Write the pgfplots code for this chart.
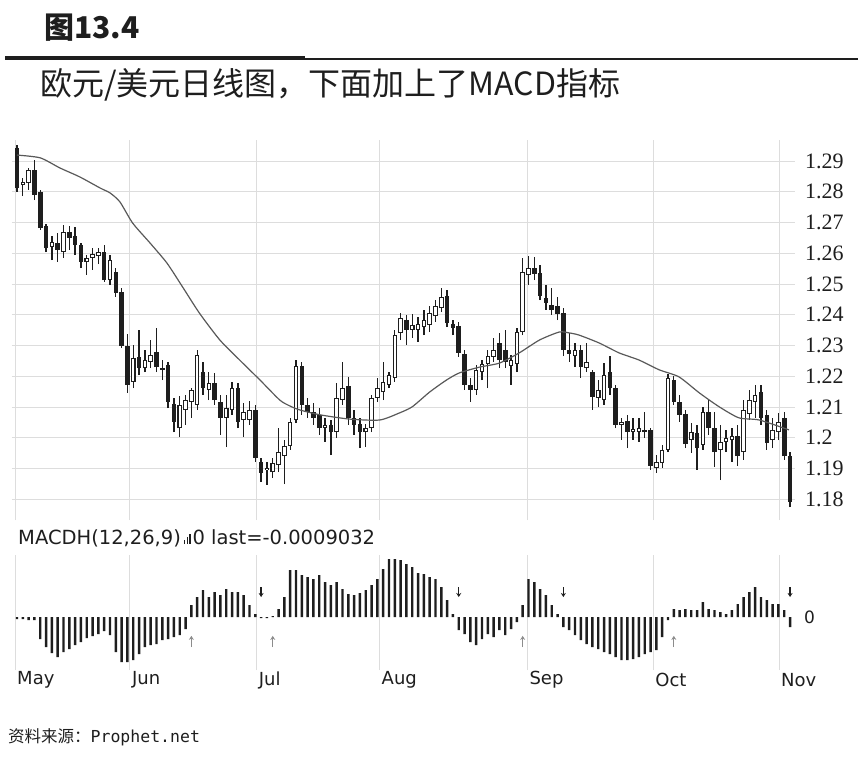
\documentclass[border=0pt]{standalone}
\usepackage{fontspec}
\setmainfont{Liberation Serif}
\newfontfamily\dv{DejaVu Sans}
\newfontfamily\dvmono{DejaVu Sans Mono}
\newfontfamily\cjk{Noto Sans CJK SC}
\usepackage{pgfplots}
\usepackage{pgfplotstable}
\pgfplotsset{compat=1.18}
\usetikzlibrary{arrows.meta}

\definecolor{ink}{HTML}{1E1E1E}
\definecolor{gridc}{HTML}{DDDDDD}

% EUR/USD daily candles, d = trading day from early May
\pgfplotstableread{
d o h l c
0 1.2942 1.2952 1.2799 1.2812
1 1.2822 1.2845 1.2786 1.2832
2 1.2828 1.2877 1.2806 1.2871
3 1.2871 1.2903 1.2773 1.2790
4 1.2799 1.2806 1.2676 1.2682
5 1.2689 1.2695 1.2604 1.2617
6 1.2620 1.2656 1.2578 1.2637
7 1.2633 1.2666 1.2572 1.2611
8 1.2604 1.2692 1.2585 1.2669
9 1.2669 1.2689 1.2611 1.2650
10 1.2656 1.2686 1.2594 1.2627
11 1.2627 1.2633 1.2552 1.2572
12 1.2572 1.2594 1.2530 1.2585
13 1.2585 1.2617 1.2546 1.2598
14 1.2591 1.2617 1.2565 1.2604
15 1.2604 1.2627 1.2507 1.2513
16 1.2513 1.2594 1.2497 1.2578
17 1.2539 1.2552 1.2458 1.2471
18 1.2474 1.2487 1.2292 1.2299
19 1.2299 1.2338 1.2146 1.2172
20 1.2182 1.2302 1.2162 1.2260
21 1.2263 1.2351 1.2204 1.2227
22 1.2227 1.2286 1.2214 1.2253
23 1.2247 1.2318 1.2227 1.2269
24 1.2279 1.2357 1.2214 1.2230
25 1.2227 1.2253 1.2188 1.2221
26 1.2237 1.2247 1.2097 1.2117
27 1.2110 1.2130 1.2019 1.2052
28 1.2032 1.2136 1.2003 1.2107
29 1.2091 1.2140 1.2042 1.2123
30 1.2117 1.2162 1.2065 1.2156
31 1.2107 1.2286 1.2091 1.2269
32 1.2214 1.2247 1.2140 1.2162
33 1.2156 1.2214 1.2123 1.2179
34 1.2179 1.2211 1.2107 1.2123
35 1.2117 1.2140 1.2010 1.2065
36 1.2065 1.2140 1.1970 1.2097
37 1.2091 1.2182 1.2075 1.2162
38 1.2162 1.2179 1.2032 1.2052
39 1.2058 1.2114 1.2003 1.2084
40 1.2058 1.2120 1.2042 1.2091
41 1.2091 1.2107 1.1922 1.1935
42 1.1922 1.1935 1.1857 1.1886
43 1.1896 1.1922 1.1847 1.1902
44 1.1889 1.1935 1.1870 1.1919
45 1.1912 1.2032 1.1889 1.1954
46 1.1941 1.1993 1.1850 1.1974
47 1.1974 1.2065 1.1961 1.2052
48 1.2058 1.2253 1.2048 1.2234
49 1.2234 1.2247 1.2075 1.2107
50 1.2107 1.2130 1.2065 1.2084
51 1.2084 1.2114 1.2042 1.2065
52 1.2075 1.2097 1.2010 1.2032
53 1.2032 1.2065 1.1987 1.2042
54 1.2042 1.2058 1.1944 1.2019
55 1.2019 1.2179 1.2000 1.2130
56 1.2123 1.2247 1.2107 1.2162
57 1.2168 1.2198 1.2042 1.2065
58 1.2065 1.2091 1.2010 1.2042
59 1.2045 1.2065 1.1967 1.2019
60 1.2019 1.2045 1.1970 1.2032
61 1.2032 1.2140 1.2019 1.2130
62 1.2130 1.2195 1.2117 1.2162
63 1.2149 1.2247 1.2123 1.2182
64 1.2172 1.2214 1.2162 1.2204
65 1.2195 1.2351 1.2182 1.2334
66 1.2341 1.2406 1.2318 1.2390
67 1.2383 1.2399 1.2302 1.2351
68 1.2351 1.2403 1.2325 1.2367
69 1.2351 1.2393 1.2312 1.2370
70 1.2360 1.2416 1.2334 1.2383
71 1.2367 1.2429 1.2344 1.2406
72 1.2396 1.2448 1.2377 1.2429
73 1.2422 1.2487 1.2409 1.2458
74 1.2461 1.2481 1.2360 1.2373
75 1.2370 1.2383 1.2334 1.2357
76 1.2364 1.2377 1.2263 1.2276
77 1.2273 1.2286 1.2156 1.2172
78 1.2172 1.2195 1.2117 1.2156
79 1.2156 1.2237 1.2140 1.2221
80 1.2214 1.2253 1.2188 1.2240
81 1.2240 1.2286 1.2162 1.2266
82 1.2263 1.2325 1.2247 1.2286
83 1.2308 1.2341 1.2227 1.2253
84 1.2286 1.2351 1.2227 1.2247
85 1.2234 1.2269 1.2172 1.2253
86 1.2240 1.2357 1.2214 1.2344
87 1.2344 1.2585 1.2334 1.2539
88 1.2530 1.2591 1.2497 1.2552
89 1.2552 1.2588 1.2513 1.2533
90 1.2536 1.2562 1.2448 1.2461
91 1.2455 1.2497 1.2416 1.2439
92 1.2432 1.2487 1.2400 1.2416
93 1.2429 1.2458 1.2383 1.2403
94 1.2406 1.2422 1.2266 1.2286
95 1.2286 1.2341 1.2247 1.2273
96 1.2266 1.2308 1.2230 1.2286
97 1.2286 1.2302 1.2195 1.2230
98 1.2227 1.2308 1.2214 1.2247
99 1.2214 1.2221 1.2091 1.2133
100 1.2130 1.2188 1.2101 1.2156
101 1.2123 1.2243 1.2107 1.2204
102 1.2214 1.2266 1.2140 1.2162
103 1.2162 1.2172 1.2032 1.2042
104 1.2042 1.2065 1.1994 1.2052
105 1.2055 1.2075 1.1967 1.2019
106 1.2019 1.2065 1.1994 1.2029
107 1.2019 1.2065 1.1987 1.2032
108 1.2026 1.2084 1.2000 1.2019
109 1.2026 1.2032 1.1896 1.1909
110 1.1902 1.1944 1.1886 1.1922
111 1.1919 1.1977 1.1902 1.1961
112 1.1961 1.2208 1.1954 1.2195
113 1.2188 1.2201 1.2107 1.2117
114 1.2117 1.2140 1.2052 1.2075
115 1.2078 1.2091 1.1967 1.1980
116 1.1993 1.2048 1.1951 1.2019
117 1.2016 1.2042 1.1896 1.1967
118 1.1977 1.2101 1.1961 1.2084
119 1.2084 1.2123 1.2010 1.2032
120 1.2032 1.2084 1.1906 1.1954
121 1.1961 1.2042 1.1863 1.1987
122 1.1987 1.2026 1.1954 1.2000
123 1.1993 1.2032 1.1922 1.2006
124 1.2006 1.2042 1.1909 1.1941
125 1.1954 1.2123 1.1929 1.2091
126 1.2078 1.2156 1.2058 1.2123
127 1.2117 1.2172 1.2065 1.2140
128 1.2149 1.2172 1.2042 1.2065
129 1.2075 1.2091 1.1961 1.1983
130 1.1993 1.2065 1.1967 1.2026
131 1.2019 1.2081 1.1993 1.2052
132 1.2065 1.2084 1.1929 1.1941
133 1.1941 1.1954 1.1775 1.1792
}\candles

% MACD histogram (12,26,9), v in units of 0.0001
\pgfplotstableread{
d v
0 -1.8
1 -1.8
2 -2.7
3 -2.7
4 -19.8
5 -27
6 -32.4
7 -36
8 -31.5
9 -28.8
10 -25.2
11 -22.5
12 -18.9
13 -17.1
14 -15.3
15 -12.6
16 -16.2
17 -31.5
18 -40.5
19 -40.5
20 -38.7
21 -33.3
22 -27
23 -25.2
24 -24.3
25 -20.7
26 -19.8
27 -18
28 -16.2
29 -10.8
30 10.8
31 18
32 24.3
33 18
34 22.5
35 19.8
36 25.2
37 22.5
38 22.5
39 19.8
40 10.8
41 2.7
42 -0.9
43 -0.9
44 0.9
45 7.2
46 18
47 42.3
48 42.3
49 37.8
50 36
51 34.2
52 37.8
53 31.5
54 28.8
55 31.5
56 25.2
57 20.7
58 19.8
59 21.6
60 24.3
61 28.8
62 34.2
63 43.2
64 52.2
65 52.2
66 51.3
67 47.7
68 45
69 39.6
70 38.7
71 36
72 34.2
73 27
74 15.3
75 2.7
76 -11.7
77 -15.3
78 -22.5
79 -25.2
80 -19.8
81 -15.3
82 -18
83 -11.7
84 -16.2
85 -10.8
86 -4.5
87 10.8
88 34.2
89 31.5
90 25.2
91 19.8
92 10.8
93 2.7
94 -9
95 -11.7
96 -16.2
97 -20.7
98 -24.3
99 -27
100 -28.8
101 -31.5
102 -33.3
103 -36
104 -38.7
105 -38.7
106 -37.8
107 -36
108 -33.3
109 -31.5
110 -29.7
111 -18
112 -2.7
113 7.2
114 6.3
115 7.2
116 6.3
117 6.3
118 13.5
119 7.2
120 6.3
121 4.5
122 2.7
123 6.3
124 11.7
125 18
126 22.5
127 27
128 18
129 15.3
130 11.7
131 11.7
132 6.3
133 -9
}\macd

\begin{document}
\begin{tikzpicture}
\path[use as bounding box] (0,0) rectangle (868pt,-758pt);

% heading
\node[anchor=west, inner sep=0pt, text=ink] at (44pt,-28pt)
  {\cjk\bfseries\fontsize{30}{30}\selectfont 图13.4};
\fill[ink] (5pt,-56pt) rectangle (305pt,-60pt);
\draw[ink, line width=1.2pt] (305pt,-59pt) -- (858pt,-59pt);
\node[anchor=west, inner sep=0pt, text=ink] at (40pt,-85pt)
  {\cjk\fontsize{32}{32}\selectfont 欧元/美元日线图，下面加上了MACD指标};

% price panel
\begin{axis}[
  at={(12pt,-520pt)}, anchor=south west,
  scale only axis, width=783pt, height=380pt,
  xmin=-0.86, xmax=133.85, ymin=1.1733, ymax=1.2968,
  axis line style={draw=none},
  major tick length=0pt,
  xtick={-0.34,19.42,41.24,62.37,87.8,109.45,131.1},
  xticklabels={},
  ytick={1.18,1.19,1.20,1.21,1.22,1.23,1.24,1.25,1.26,1.27,1.28,1.29},
  yticklabel pos=right,
  /pgf/number format/assume math mode=true,
  yticklabel style={anchor=west, inner sep=0pt, xshift=10pt,
    font=\fontsize{22}{22}\selectfont, text=ink},
  xmajorgrids, ymajorgrids,
  major grid style={gridc, line width=0.8pt},
  candle/.style={draw=none, mark=none,
    error bars/.cd, y dir=plus, y explicit, error mark=none},
]
% wicks
\addplot[candle, error bar style={line width=1.3pt, draw=ink}]
  table[x=d, y=l, y error expr=\thisrow{h}-\thisrow{l}] {\candles};
% bodies
\addplot[candle, error bar style={line width=4.6pt, draw=ink}]
  table[x=d, y expr={min(\thisrow{o},\thisrow{c})},
        y error expr={max(abs(\thisrow{c}-\thisrow{o}),0.0003)}] {\candles};
% hollow inside of rising candles
\addplot[candle, error bar style={line width=2.4pt, draw=white}]
  table[x=d, y expr=\thisrow{o}+0.00028,
        y error expr={max(\thisrow{c}-\thisrow{o}-0.00056,0)}] {\candles};
% moving average
\addplot[smooth, tension=0.4, line width=1.2pt, color=black!65] coordinates {
(0,1.2919) (4,1.2910) (7.4,1.2877) (10.8,1.2848) (14.3,1.2812) (16,1.2796)
(17.7,1.2767) (19.9,1.2698) (22.9,1.2633) (25.8,1.2568) (28.5,1.2490)
(31.4,1.2405) (34.9,1.2318) (38.3,1.2253) (41.8,1.2188) (45.2,1.2123)
(46.9,1.2104) (48.6,1.2091) (52.1,1.2075) (57.2,1.2061) (62.4,1.2058)
(65.8,1.2081) (68,1.2101) (71,1.2149) (73.9,1.2188) (76.1,1.2211)
(79.6,1.2230) (83,1.2243) (86.4,1.2276) (89.9,1.2318) (93.3,1.2344)
(95,1.2341) (96.7,1.2334) (100.2,1.2308) (103.6,1.2276) (107,1.2253)
(110.5,1.2221) (113.9,1.2198) (117.4,1.2146) (120.8,1.2101) (124.2,1.2065)
(127.7,1.2058) (132.8,1.2026)};
\end{axis}

% MACD panel
\begin{axis}[
  at={(12pt,-670pt)}, anchor=south west,
  scale only axis, width=783pt, height=115pt,
  xmin=-0.86, xmax=133.85, ymin=-47.7, ymax=55.8,
  axis line style={draw=none},
  major tick length=0pt,
  xtick={-0.34,19.42,41.24,62.37,87.8,109.45,131.1},
  xticklabels={May,Jun,Jul,Aug,Sep,Oct,Nov},
  xticklabel style={anchor=west, inner sep=0pt, xshift=2pt, yshift=-10pt,
    font=\dv\fontsize{18}{18}\selectfont, text=ink},
  ytick={0},
  yticklabel pos=right,
  /pgf/number format/assume math mode=true,
  yticklabel style={anchor=west, inner sep=0pt, xshift=9pt,
    font=\dv\fontsize{17}{17}\selectfont, text=ink},
  xmajorgrids,
  major grid style={gridc, line width=0.8pt},
]
\addplot[ybar, bar width=2.4pt, bar shift=0pt, fill=ink, draw=none]
  table[x=d, y=v] {\macd};
% crossover arrows
\addplot[quiver={u=0, v=-9}, -{Stealth[length=4pt, width=5pt]},
  line width=1.3pt, ink] coordinates {(42,27) (76,27) (94,27) (133,27)};
\addplot[quiver={u=0, v=10}, -{Stealth[length=4pt, width=5pt]},
  line width=1pt, black!45] coordinates {(30,-27) (44,-27) (87,-27) (113,-27)};
\end{axis}

\node[anchor=west, inner sep=0pt, text=ink] at (18pt,-538pt)
  {\dv\fontsize{19.5}{20}\selectfont MACDH(12,26,9)\hspace{3pt}%
   \rule{1.4pt}{4pt}\hspace{1.2pt}\rule{1.4pt}{7pt}\hspace{1.2pt}\rule{1.4pt}{10pt}%
   \hspace{2pt}0 last=-0.0009032};

\node[anchor=west, inner sep=0pt, text=ink] at (8pt,-737pt)
  {\cjk\fontsize{16.5}{17}\selectfont 资料来源：{\dvmono\fontsize{16.5}{17}\selectfont Prophet.net}};
\end{tikzpicture}
\end{document}
